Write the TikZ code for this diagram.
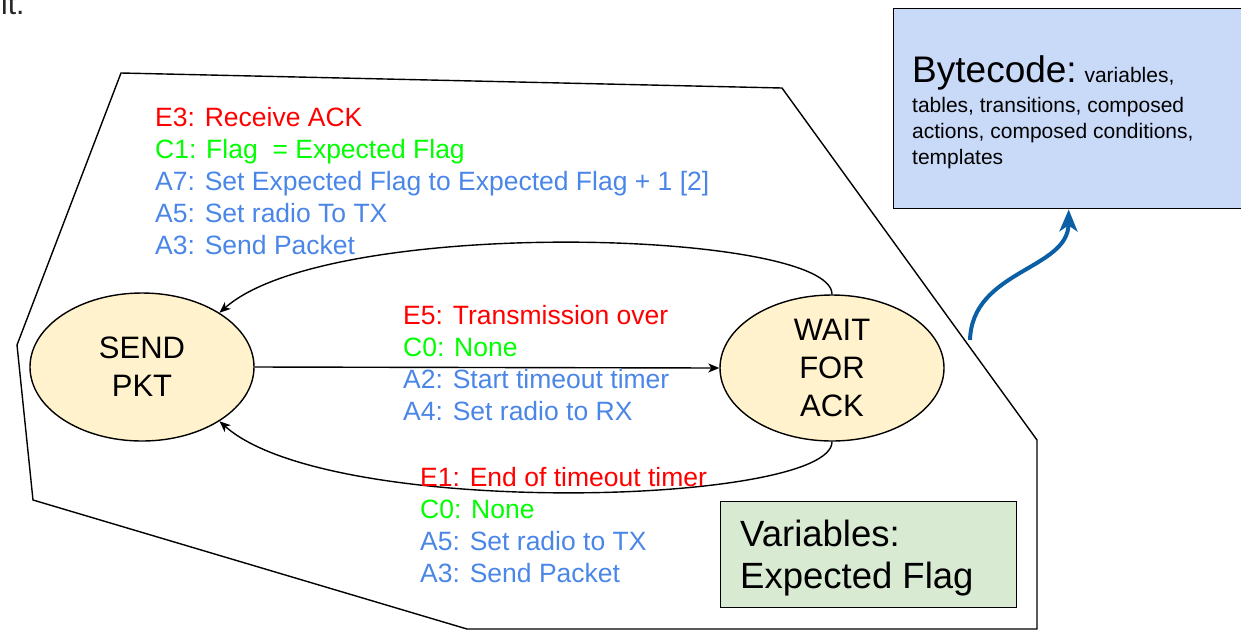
\documentclass[tikz,border=0pt]{standalone}
\usepackage{fontspec}
\setmainfont{Liberation Sans}
\usetikzlibrary{shapes.geometric,arrows.meta}
\definecolor{evred}{HTML}{FF0000}
\definecolor{condgreen}{HTML}{00FF00}
\definecolor{actblue}{HTML}{4A86E8}
\definecolor{statefill}{HTML}{FFF2CC}
\definecolor{bytefill}{HTML}{C9DAF8}
\definecolor{varfill}{HTML}{D9EAD3}
\definecolor{linkblue}{HTML}{0B5FA5}

\begin{document}
\begin{tikzpicture}[x=1pt,y=-1pt,
  state/.style={ellipse, draw, line width=1.4pt, fill=statefill,
    minimum width=224pt, minimum height=148pt, inner sep=0pt,
    align=center, font=\fontsize{31}{38}\selectfont},
  trans/.style={line width=1.4pt, -{Stealth[length=11pt,width=9pt,inset=3pt]}},
  lbl/.style={anchor=north west, inner sep=0pt, align=left,
    font=\fontsize{26.5}{32}\selectfont},
  infobox/.style={draw, line width=1.4pt, anchor=north west, inner sep=0pt},
]
\useasboundingbox (0,0) rectangle (1241,633);

% leftover text line at the very top
\node (itxt) [anchor=base west, inner sep=0pt, text=black!85,
  font=\fontsize{30}{30}\selectfont] at (1,14) {it.};

% outline of the state machine
\draw[line width=1.4pt, line join=miter]
  (121,73) -- (782,88) -- (1037,440) -- (1037,629) -- (467,629)
  -- (33,500) -- (17,345) -- cycle;

% states
\node[state] (send) at (142,367) {SEND\\PKT};
\node[state, minimum height=146pt] (wait) at (832,368) {WAIT\\FOR\\ACK};

% transitions
\draw[trans] (wait.north) .. controls (832,230) and (330,215) .. (send.35);
\draw[trans] (send.east) -- (wait.west);
\draw[trans] (wait.south) .. controls (832,505) and (330,520) .. (send.-35);

% transition labels
\node[lbl] (ackrx) at (155,107) {%
  \textcolor{evred}{E3: Receive ACK}\\
  \textcolor{condgreen}{C1: Flag\ \ = Expected Flag}\\
  \textcolor{actblue}{A7: Set Expected Flag to Expected Flag + 1 [2]}\\
  \textcolor{actblue}{A5: Set radio To TX}\\
  \textcolor{actblue}{A3: Send Packet}};
\node[lbl] (txover) at (403,305) {%
  \textcolor{evred}{E5: Transmission over}\\
  \textcolor{condgreen}{C0: None}\\
  \textcolor{actblue}{A2: Start timeout timer}\\
  \textcolor{actblue}{A4: Set radio to RX}};
\node[lbl] (timeout) at (420,467) {%
  \textcolor{evred}{E1: End of timeout timer}\\
  \textcolor{condgreen}{C0: None}\\
  \textcolor{actblue}{A5: Set radio to TX}\\
  \textcolor{actblue}{A3: Send Packet}};

% variables box
\node[infobox, fill=varfill, minimum width=296pt, minimum height=106pt]
  (varbox) at (720,501) {};
\node[lbl, font=\fontsize{36.5}{42}\selectfont] (vartext) at (740,520)
  {Variables:\\Expected Flag};

% bytecode box
\node[infobox, fill=bytefill, minimum width=350pt, minimum height=200pt]
  (bytebox) at (893,8) {};
\node[lbl, font=\fontsize{21}{26}\selectfont] (bytetext) at (912,55)
  {{\fontsize{37}{37}\selectfont Bytecode:} variables,\\[4pt]
   tables, transitions, composed\\
   actions, composed conditions,\\
   templates};

% link from the machine to its bytecode
\coordinate (linkstart) at (970,340);
\draw[linkblue, line width=4pt, -{Stealth[length=22pt,width=18pt,inset=6pt]}]
  (linkstart) .. controls (972,270) and (1068,270) .. (bytebox.south);
\end{tikzpicture}
\end{document}
